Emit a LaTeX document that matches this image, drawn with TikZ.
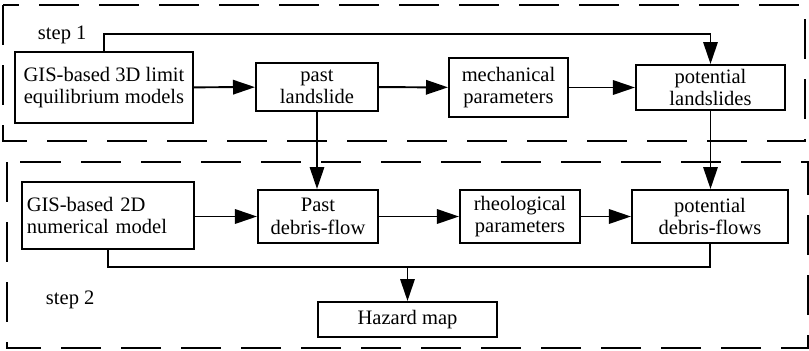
\documentclass[tikz,border=0pt]{standalone}
\usepackage{fontspec}
\setmainfont{Liberation Serif}
\usetikzlibrary{arrows.meta}

\tikzset{
    box/.style={draw,line width=1.4pt,align=center,inner sep=1pt},
    stagebox/.style={line width=1.4pt,dash pattern=on 1cm off 0.5cm},
    link/.style={line width=1.4pt,->}
}

\begin{document}
\begin{tikzpicture}[font=\fontsize{14.6}{16}\selectfont,
    >={Triangle[length=0.55cm,width=0.36cm]},x=0.025cm,y=-0.025cm]
    \useasboundingbox (0,0) rectangle (809,350);

    % the two stages
    \draw[stagebox] (3,5) rectangle (805,141);
    \draw[stagebox] (7,162) rectangle (808,348);
    \node[anchor=west] (step1-label) at (33,35) {step 1};
    \node[anchor=west] (step2-label) at (41,300) {step 2};

    % step 1
    \node[box,minimum width=4.45cm,minimum height=1.775cm]
        (limit-model) at (104,87.5)
        {GIS-based 3D limit\\equilibrium models};
    \node[box,minimum width=3.05cm,minimum height=1.2cm]
        (past-landslide) at (317,87) {past\\landslide};
    \node[box,minimum width=2.975cm,minimum height=1.475cm]
        (mech-param) at (508.5,87.5) {mechanical\\parameters};
    \node[box,minimum width=3.725cm,minimum height=1.125cm]
        (pot-landslides) at (710.5,87.5) {potential\\landslides};

    % step 2
    \node[box,align=left,anchor=west,minimum height=1.675cm,
        inner xsep=0.12cm,text width=4.06cm]
        (num-model) at (21,215.5)
        {GIS-based 2D\\numerical model};
    \node[box,minimum width=3cm,minimum height=1.325cm]
        (past-debris) at (318,216.5) {Past\\debris-flow};
    \node[box,minimum width=3cm,minimum height=1.325cm]
        (rheo-param) at (520,216.5) {rheological\\parameters};
    \node[box,minimum width=3.9cm,minimum height=1.325cm]
        (pot-debris) at (710,216.5) {potential\\debris-flows};
    \node[box,minimum width=4.475cm,minimum height=0.875cm]
        (hazard-map) at (407.5,319.5) {Hazard map};

    \coordinate (top-bend) at (0,34);
    \coordinate (bus) at (0,267);

    \draw[link] (limit-model) -- (past-landslide);
    \draw[link] (past-landslide) -- (mech-param);
    \draw[link] (mech-param) -- (pot-landslides);
    \draw[link] (limit-model.north) -- (limit-model.north |- top-bend)
        -| (pot-landslides.north);

    \draw[link] (past-landslide.south) -- (past-landslide.south |- past-debris.north);
    \draw[link] (pot-landslides.south) -- (pot-landslides.south |- pot-debris.north);

    \draw[link] (num-model.east |- past-debris) -- (past-debris);
    \draw[link] (past-debris) -- (rheo-param);
    \draw[link] (rheo-param) -- (pot-debris);
    \draw[line width=1.4pt] (num-model.south) -- (num-model.south |- bus)
        -- (pot-debris.south |- bus) -- (pot-debris.south);
    \draw[link] (hazard-map.north |- bus) -- (hazard-map.north);
\end{tikzpicture}
\end{document}
